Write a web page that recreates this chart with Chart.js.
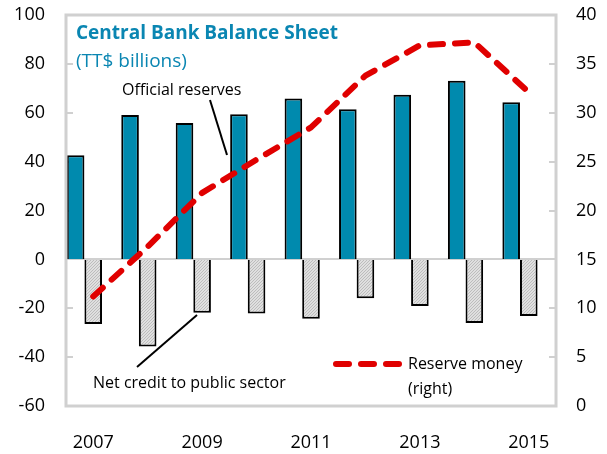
<!DOCTYPE html>
<html>
<head>
<meta charset="utf-8">
<script src="https://cdn.jsdelivr.net/npm/chart.js@4"></script>
<style>
  html, body { margin: 0; padding: 0; background: #fff; }
  #wrap { width: 607px; height: 454px; position: relative; }
</style>
</head>
<body>
<div id="wrap"><canvas id="myChart"></canvas></div>
<script>
const years = ['2007', '2008', '2009', '2010', '2011', '2012', '2013', '2014', '2015']
const officialReserves = [42.6, 59.1, 55.8, 59.4, 65.8, 61.4, 67.4, 73.1, 64.3]
const netCredit = [-26.4, -35.7, -21.8, -22.1, -24.3, -15.9, -19.1, -26.0, -23.2]
const reserveMoney = [11.2, 16.3, 21.8, 25.2, 28.5, 33.8, 36.9, 37.2, 32.1]
const leftTicks = [-60, 100, 20]
const rightTicks = [0, 40, 5]

const FONT = "'Open Sans', 'Noto Sans', sans-serif"
const frameGrey = '#d0d0d0'

// fine hatch pattern for the net credit bars
const pat = document.createElement('canvas')
pat.width = 3
pat.height = 3
const pctx = pat.getContext('2d')
pctx.fillStyle = '#e0e0e0'
pctx.fillRect(0, 0, 3, 3)
pctx.fillStyle = '#bdbdbd'
for (let i = 0; i < 3; i++) {
    pctx.fillRect(i, 2 - i, 1, 1)
}
const hatch = pctx.createPattern(pat, 'repeat')

// frame, zero line, inward tick marks and text notes
const decor = {
    id: 'decor',
    beforeDatasetsDraw(chart) {
        const c = chart.ctx
        const a = chart.chartArea
        c.save()
        c.strokeStyle = frameGrey
        c.lineWidth = 2
        const yl = chart.scales.y
        const z = Math.round(yl.getPixelForValue(0))
        c.beginPath(); c.moveTo(a.left, z); c.lineTo(a.right, z); c.stroke()
        yl.ticks.forEach(t => {
            const p = Math.round(yl.getPixelForValue(t.value))
            c.beginPath(); c.moveTo(a.left, p); c.lineTo(a.left + 7, p); c.stroke()
        })
        const yr = chart.scales.y2
        yr.ticks.forEach(t => {
            const p = Math.round(yr.getPixelForValue(t.value))
            c.beginPath(); c.moveTo(a.right - 7, p); c.lineTo(a.right, p); c.stroke()
        })
        c.restore()
    },
    afterDraw(chart) {
        const c = chart.ctx
        const a = chart.chartArea
        c.save()
        c.strokeStyle = frameGrey
        c.lineWidth = 3
        c.strokeRect(a.left, a.top, a.right - a.left, a.bottom - a.top)

        c.textBaseline = 'middle'
        c.textAlign = 'left'
        c.fillStyle = '#0a86b2'
        c.font = 'bold 19px ' + FONT
        c.fillText('Central Bank Balance Sheet', 76, 34)
        c.font = '19px ' + FONT
        c.fillText('(TT$ billions)', 76, 62)

        c.fillStyle = '#000'
        c.font = '16px ' + FONT
        c.fillText('Official reserves', 122, 90)
        c.fillText('Net credit to public sector', 93, 383)
        c.fillText('Reserve money', 408, 364)
        c.fillText('(right)', 408, 389)

        c.strokeStyle = '#000'
        c.lineWidth = 2
        c.beginPath(); c.moveTo(210, 100); c.lineTo(227, 155); c.stroke()
        c.beginPath(); c.moveTo(137, 367); c.lineTo(197, 315); c.stroke()

        // legend sample
        c.strokeStyle = '#e00000'
        c.lineWidth = 6
        c.lineCap = 'round'
        c.setLineDash([13, 12])
        c.beginPath(); c.moveTo(336, 364); c.lineTo(400, 364); c.stroke()
        c.restore()
    }
}

const ctx1 = document.getElementById('myChart')

new Chart(ctx1, {
    data: {
        labels: years,
        datasets: [{
            type: 'line',
            label: 'Reserve money (right)',
            data: reserveMoney,
            yAxisID: 'y2',
            borderColor: '#e00000',
            borderWidth: 6,
            borderDash: [13, 12],
            borderCapStyle: 'round',
            borderJoinStyle: 'round',
            pointRadius: 0,
            tension: 0,
            order: 0
        }, {
            type: 'bar',
            label: 'Official reserves',
            data: officialReserves,
            yAxisID: 'y',
            backgroundColor: '#008aae',
            borderColor: '#000',
            borderWidth: 2,
            order: 1
        }, {
            type: 'bar',
            label: 'Net credit to public sector',
            data: netCredit,
            yAxisID: 'y',
            backgroundColor: hatch,
            borderColor: '#000',
            borderWidth: 2,
            order: 1
        }, {
            // empty slot, like the chart's third series
            type: 'bar',
            label: '',
            data: years.map(() => null),
            yAxisID: 'y',
            backgroundColor: 'rgba(0,0,0,0)',
            order: 1
        }]
    },
    options: {
        responsive: true,
        maintainAspectRatio: false,
        animation: false,
        barPercentage: 1,
        categoryPercentage: 0.97,
        layout: { padding: { top: 15, left: 0, right: 0, bottom: 0 } },
        scales: {
            x: {
                offset: true,
                grid: { display: false },
                border: { display: false },
                afterFit: s => { s.height = 48 },
                ticks: {
                    color: '#000',
                    padding: 18,
                    maxRotation: 0,
                    autoSkip: false,
                    callback: (v, i) => i % 2 === 0 ? years[i] : '',
                    font: { size: 18, family: FONT }
                }
            },
            y: {
                position: 'left',
                min: leftTicks[0],
                max: leftTicks[1],
                afterFit: s => { s.width = 66 },
                border: { display: false },
                grid: {
                    drawOnChartArea: false,
                    drawTicks: true,
                    tickLength: 21,
                    tickColor: 'rgba(0,0,0,0)'
                },
                ticks: {
                    stepSize: leftTicks[2],
                    color: '#000',
                    padding: 0,
                    font: { size: 18, family: FONT }
                }
            },
            y2: {
                position: 'right',
                min: rightTicks[0],
                max: rightTicks[1],
                afterFit: s => { s.width = 51 },
                border: { display: false },
                grid: {
                    drawOnChartArea: false,
                    drawTicks: true,
                    tickLength: 20,
                    tickColor: 'rgba(0,0,0,0)'
                },
                ticks: {
                    stepSize: rightTicks[2],
                    color: '#000',
                    padding: 0,
                    font: { size: 18, family: FONT }
                }
            }
        },
        plugins: {
            legend: { display: false },
            tooltip: { enabled: false }
        }
    },
    plugins: [decor]
})
</script>
</body>
</html>
